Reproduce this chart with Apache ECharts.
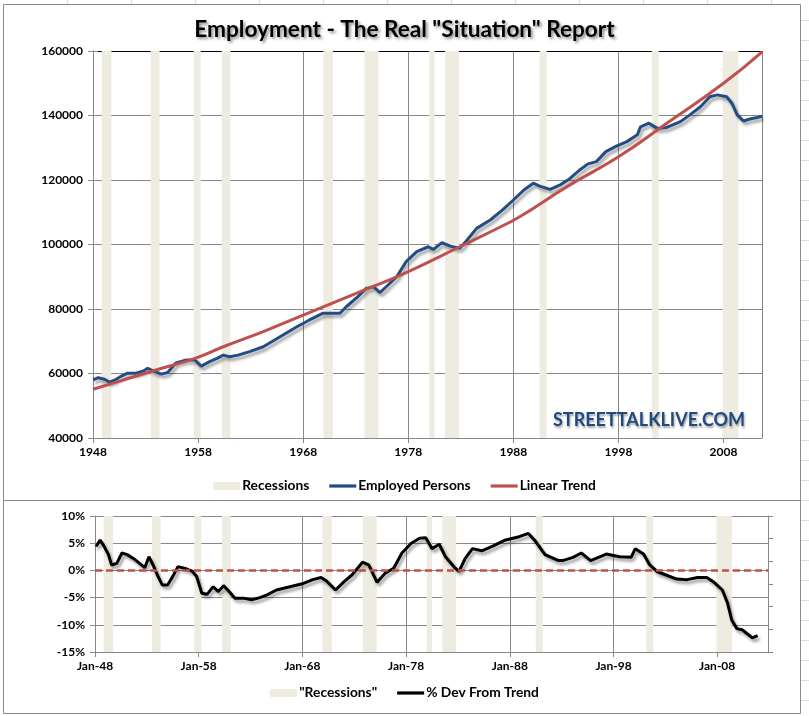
<!DOCTYPE html>
<html><head><meta charset="utf-8">
<script src="https://cdn.jsdelivr.net/npm/echarts@6/dist/echarts.min.js"></script>
<style>html,body{margin:0;padding:0;background:#fff}#c{width:809px;height:716px}</style>
</head><body><div id="c"></div>
<script>
// ---------- data (decimal years) ----------
const BASE_YEAR = 1948;
const recessionStarts = [1948.83, 1953.50, 1957.58, 1960.25, 1969.92, 1973.83, 1980.00, 1981.50, 1990.50, 2001.17, 2007.92];
const recessionEnds   = [1949.75, 1954.33, 1958.25, 1961.08, 1970.83, 1975.17, 1980.50, 1982.83, 1991.17, 2001.83, 2009.42];

const empYears = [1948.0,1948.5,1949.1,1949.6,1950.1,1950.7,1951.3,1952.1,1952.8,1953.2,1953.9,1954.5,1955.1,1955.9,1956.9,1957.7,1958.3,1959.1,1959.8,1960.4,1961.0,1961.8,1962.9,1964.2,1965.8,1967.4,1968.6,1969.9,1970.5,1971.5,1972.1,1973.1,1974.0,1974.7,1975.3,1975.9,1976.9,1977.8,1978.8,1979.9,1980.4,1981.2,1982.0,1982.9,1983.6,1984.5,1985.8,1987.0,1988.0,1989.0,1989.9,1990.5,1991.5,1992.4,1993.4,1994.3,1995.1,1995.9,1996.8,1997.8,1998.8,1999.8,2000.1,2000.9,2001.7,2002.6,2003.9,2004.8,2005.8,2006.7,2007.4,2008.3,2008.8,2009.3,2009.9,2010.5,2011.2,2011.7];
const empValues = [58000,58700,58200,57300,58000,59200,60100,60100,60800,61600,60600,59800,60300,63300,64200,64200,62300,63700,64700,65700,65200,65700,66800,68300,71400,74500,76600,78700,78700,78700,80700,83500,86400,86900,85100,86900,90000,94700,97800,99300,98500,100600,99500,98800,101400,105000,107600,110800,113800,116900,119000,118100,117100,118400,120500,123100,125000,125700,128800,130500,131900,134000,136500,137600,136000,136300,138100,140200,142700,145800,146400,145800,143800,140200,138300,138900,139400,139800];

const trendYears  = [1948.0,1950.7,1954.0,1957.7,1960.4,1964.2,1968.0,1973.1,1977.8,1982.9,1986.8,1988.6,1993.1,1998.0,2002.6,2008.0,2011.7];
const trendValues = [55100,57800,61100,64700,68300,73000,78100,84900,91300,99300,105500,108600,117900,127200,137600,150000,159800];

const devYears = [1948.1,1948.5,1948.8,1949.3,1949.6,1950.1,1950.6,1951.1,1951.7,1952.3,1952.8,1953.2,1953.6,1954.0,1954.5,1955.0,1955.5,1956.0,1956.8,1957.4,1957.8,1958.3,1958.8,1959.4,1959.9,1960.4,1960.8,1961.5,1962.3,1963.1,1963.9,1964.6,1965.5,1966.8,1968.1,1969.0,1969.8,1970.3,1971.2,1972.0,1972.8,1973.8,1974.4,1975.2,1976.0,1976.8,1977.6,1978.5,1979.3,1979.9,1980.5,1981.2,1981.8,1982.6,1983.1,1983.7,1984.4,1985.3,1986.3,1987.6,1988.9,1989.8,1990.5,1991.4,1992.7,1993.1,1994.1,1994.9,1995.8,1997.3,1998.6,1999.7,2000.1,2000.9,2001.5,2002.2,2003.0,2004.1,2005.1,2006.1,2007.0,2007.7,2008.5,2009.0,2009.4,2009.9,2010.4,2010.8,2011.4,2011.9];
const devValues = [4.4,5.6,4.7,2.9,1.0,1.3,3.2,2.9,2.2,1.3,0.5,2.5,1.0,-0.8,-2.7,-2.7,-1.1,0.7,0.3,-0.2,-1.1,-4.2,-4.4,-3.0,-3.9,-2.8,-3.6,-5.1,-5.1,-5.4,-5.0,-4.5,-3.6,-3.0,-2.4,-1.7,-1.3,-1.9,-3.6,-2.1,-0.8,1.5,1.0,-2.2,-0.5,0.4,3.2,5.0,5.9,6.0,4.0,4.8,2.5,0.7,-0.2,2.2,4.0,3.6,4.4,5.6,6.2,6.8,5.3,2.9,1.8,1.8,2.4,3.2,1.8,3.0,2.5,2.4,4.0,3.0,1.0,-0.2,-0.8,-1.6,-1.7,-1.3,-1.3,-2.2,-3.6,-6.0,-9.1,-10.7,-10.9,-11.5,-12.4,-12.0];
const devTrendLevel = 0;

const topXLabels = ['1948','1958','1968','1978','1988','1998','2008'];
const bottomXLabels = ['Jan-48','Jan-58','Jan-68','Jan-78','Jan-88','Jan-98','Jan-08'];
const topYTicks = {min: 40000, max: 160000, step: 20000};
const devYTicks = {min: -15, max: 10, step: 5};
const topXMaxYear = 2011.66;
const bottomXMaxYear = 2012.9;

// ---------- styles ----------
const FONT = 'Lato';
const REC = '#EEECE1', BLUE = '#234C84', RED = '#C0504D', GRID = '#878787';
const shadow = {shadowColor:'rgba(0,0,0,0.38)', shadowBlur:3, shadowOffsetX:2, shadowOffsetY:3};
const LINE_ICON = 'path://M0,0L27,0L27,3.2L0,3.2Z';

const pairs = (xs, ys) => xs.map((x,i) => [x - BASE_YEAR, ys[i]]);
const recData = recessionStarts.map((s,i) => [s - BASE_YEAR, recessionEnds[i] - BASE_YEAR]);

function recRender(params, api){
  const cs = params.coordSys;
  const x0 = api.coord([api.value(0), 0])[0];
  const x1 = api.coord([api.value(1), 0])[0];
  return {type:'rect', shape:{x:x0, y:cs.y, width:Math.max(1,x1-x0), height:cs.height}, style:{fill:REC}};
}

const labelStyle = {color:'#000', fontFamily:FONT, fontWeight:'bold', fontSize:12};

const graphics = [
  {type:'rect', shape:{x:3.5,y:4.5,width:797,height:496}, style:{fill:'none', stroke:'#8a8a8a', lineWidth:1}, z:-1},
  {type:'rect', shape:{x:3.5,y:500.5,width:797,height:213}, style:{fill:'none', stroke:'#8a8a8a', lineWidth:1}, z:-1},
  {type:'text', left:553, top:411, z:100, style:{text:'STREETTALKLIVE.COM', fill:'#1F4A80', font:'bold 18px '+FONT,
     textShadowColor:'rgba(0,0,0,0.35)', textShadowBlur:2, textShadowOffsetX:1, textShadowOffsetY:2}}
];
for (let y = 20; y < 716; y += 20) graphics.push({type:'line', shape:{x1:801,y1:y+0.5,x2:809,y2:y+0.5}, style:{stroke:'#dadcdd'}, z:-2});
for (let x = 67; x < 800; x += 64) graphics.push({type:'line', shape:{x1:x+0.5,y1:0,x2:x+0.5,y2:4}, style:{stroke:'#dadcdd'}, z:-2});

const legendText = {fontFamily:FONT, fontWeight:'bold', fontSize:13.8, color:'#000', padding:[0,0,0,-3]};

const option = {
  animation:false,
  backgroundColor:'#fff',
  title:{text:'Employment - The Real "Situation" Report', left:'center', top:13,
    textStyle:{fontFamily:FONT, fontWeight:'bold', fontSize:22.6, color:'#000',
      textShadowColor:'rgba(0,0,0,0.45)', textShadowBlur:3, textShadowOffsetX:2, textShadowOffsetY:2}},
  graphic: graphics,
  legend:[
    {data:[{name:'Recessions', icon:'rect', itemStyle:{color:REC}},
           {name:'Employed Persons', icon:LINE_ICON, itemStyle:{color:BLUE}},
           {name:'Linear Trend', icon:LINE_ICON, itemStyle:{color:RED}}],
     left:'center', top:474, itemWidth:27, itemHeight:8, itemGap:20, symbolKeepAspect:true,
     textStyle:legendText},
    {data:[{name:'"Recessions"', icon:'rect', itemStyle:{color:REC}},
           {name:'% Dev From Trend', icon:LINE_ICON, itemStyle:{color:'#000'}}],
     left:'center', top:681, itemWidth:27, itemHeight:8, itemGap:20, symbolKeepAspect:true,
     textStyle:legendText}
  ],
  grid:[
    {left:93, right:47, top:51, bottom:278, containLabel:false, outerBoundsMode:'none'},
    {left:95, right:41, top:516, bottom:64, containLabel:false, outerBoundsMode:'none'}
  ],
  xAxis:[
    {type:'value', gridIndex:0, min:0, max:topXMaxYear-BASE_YEAR, interval:10,
     axisLine:{lineStyle:{color:GRID}}, axisTick:{show:true, length:5, lineStyle:{color:GRID}},
     splitLine:{show:true, lineStyle:{color:GRID}},
     axisLabel:{...labelStyle, margin:8, showMaxLabel:false, formatter:v => topXLabels[Math.round(v/10)] || ''}},
    {type:'value', gridIndex:0, position:'top', min:0, max:topXMaxYear-BASE_YEAR,
     axisLine:{show:true, onZero:false, lineStyle:{color:'#000', width:1}}, axisTick:{show:false}, axisLabel:{show:false}, splitLine:{show:false}},
    {type:'value', gridIndex:1, min:0, max:bottomXMaxYear-BASE_YEAR, interval:10,
     axisLine:{onZero:false, lineStyle:{color:GRID}}, axisTick:{show:true, length:5, lineStyle:{color:GRID}},
     splitLine:{show:true, lineStyle:{color:GRID}},
     axisLabel:{...labelStyle, margin:8, showMaxLabel:false, formatter:v => bottomXLabels[Math.round(v/10)] || ''}}
  ],
  yAxis:[
    {type:'value', gridIndex:0, min:topYTicks.min, max:topYTicks.max, interval:topYTicks.step,
     axisLine:{show:true, lineStyle:{color:GRID}}, axisTick:{show:true, length:5, lineStyle:{color:GRID}},
     splitLine:{lineStyle:{color:GRID}}, axisLabel:{...labelStyle, margin:10, formatter:v => String(v)}},
    {type:'value', gridIndex:0, position:'right', min:0, max:1.2, interval:0.2,
     axisLine:{show:true, lineStyle:{color:GRID}}, axisTick:{show:true, length:5, lineStyle:{color:GRID}},
     splitLine:{show:false}, axisLabel:{show:false}},
    {type:'value', gridIndex:1, min:devYTicks.min, max:devYTicks.max, interval:devYTicks.step,
     axisLine:{show:true, lineStyle:{color:GRID}}, axisTick:{show:true, length:5, lineStyle:{color:GRID}},
     splitLine:{lineStyle:{color:GRID}}, axisLabel:{...labelStyle, margin:10, formatter:v => v + '%'}},
    {type:'value', gridIndex:1, position:'right', min:0, max:1.2, interval:0.2,
     axisLine:{show:true, lineStyle:{color:GRID}}, axisTick:{show:true, length:5, lineStyle:{color:GRID}},
     splitLine:{show:false}, axisLabel:{show:false}}
  ],
  series:[
    {name:'Recessions', type:'custom', xAxisIndex:0, yAxisIndex:1, renderItem:recRender, data:recData,
     encode:{x:[0,1]}, itemStyle:{color:REC}, z:1, silent:true},
    {name:'Employed Persons', type:'line', xAxisIndex:0, yAxisIndex:0, data:pairs(empYears, empValues),
     symbol:'none', lineStyle:{color:BLUE, width:3, ...shadow}, itemStyle:{color:BLUE}, z:3},
    {name:'Linear Trend', type:'line', xAxisIndex:0, yAxisIndex:0, data:pairs(trendYears, trendValues),
     symbol:'none', smooth:true, lineStyle:{color:RED, width:3}, itemStyle:{color:RED}, z:4},
    {name:'"Recessions"', type:'custom', xAxisIndex:2, yAxisIndex:3, renderItem:recRender, data:recData,
     encode:{x:[0,1]}, itemStyle:{color:REC}, z:1, silent:true},
    {name:'% Dev From Trend', type:'line', xAxisIndex:2, yAxisIndex:2, data:pairs(devYears, devValues),
     symbol:'none', lineStyle:{color:'#000', width:3, ...shadow}, itemStyle:{color:'#000'}, z:3,
     markLine:{silent:true, symbol:'none', label:{show:false},
       lineStyle:{color:RED, type:[7,4], width:2.5}, data:[{yAxis:devTrendLevel}]}}
  ]
};
echarts.init(document.getElementById('c')).setOption(option);
</script></body></html>
